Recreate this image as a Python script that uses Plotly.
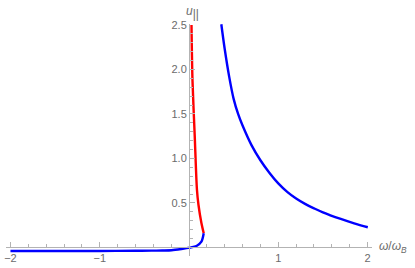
import plotly.graph_objects as go

# Lower blue branch (omega/omega_B, u_par)
blue_low_x = [-2.0, -1.5, -1.0, -0.6, -0.42, -0.3, -0.195, -0.084, 0.009, 0.084, 0.139, 0.165]
blue_low_y = [-0.040, -0.040, -0.039, -0.037, -0.036, -0.034, -0.031, -0.017, -0.002, 0.017, 0.065, 0.16]

# Red branch
red_x = [0.165, 0.139, 0.106, 0.089, 0.064, 0.039, 0.028]
red_y = [0.16, 0.275, 0.48, 0.65, 1.26, 1.88, 2.50]

# Upper blue branch
blue_up_x = [0.362, 0.40, 0.45, 0.50, 0.55, 0.60, 0.70, 0.80, 0.90, 1.00, 1.10, 1.20, 1.30, 1.40, 1.50, 1.70, 1.85, 2.003]
blue_up_y = [2.508, 2.23, 1.92, 1.67, 1.50, 1.37, 1.15, 0.98, 0.84, 0.72, 0.625, 0.55, 0.49, 0.44, 0.395, 0.32, 0.27, 0.227]

x_ticks = [-2, -1, 1, 2]
x_tick_text = ["\u22122", "\u22121", "1", "2"]
y_ticks = [0.5, 1.0, 1.5, 2.0, 2.5]
y_tick_text = ["0.5", "1.0", "1.5", "2.0", "2.5"]

XMIN, XMAX = -2.05, 2.05
YMIN, YMAX = -0.096, 2.511

AX = "#b3b3b3"
TXT = "#6b6b6b"
FONT = "Liberation Sans"

fig = go.Figure()
fig.add_trace(go.Scatter(x=red_x, y=red_y, mode="lines",
                         line=dict(color="#ff0000", width=2.4, shape="spline", smoothing=0.8),
                         showlegend=False))
fig.add_trace(go.Scatter(x=blue_low_x, y=blue_low_y, mode="lines",
                         line=dict(color="#0000ff", width=2.4, shape="spline", smoothing=0.8),
                         showlegend=False))
fig.add_trace(go.Scatter(x=blue_up_x, y=blue_up_y, mode="lines",
                         line=dict(color="#0000ff", width=2.4, shape="spline", smoothing=1.0),
                         showlegend=False))

fig.update_layout(
    width=415, height=268,
    margin=dict(l=4, r=43, t=24, b=12),
    paper_bgcolor="white", plot_bgcolor="white",
    font=dict(family=FONT, size=11, color=TXT),
    xaxis=dict(range=[XMIN, XMAX], anchor="free", position=(0 - YMIN) / (YMAX - YMIN),
               showline=True, linecolor=AX, linewidth=1, showgrid=False, zeroline=False,
               tickmode="array", tickvals=x_ticks, ticktext=x_tick_text,
               ticks="inside", ticklen=5, tickcolor=AX, tickwidth=1,
               minor=dict(ticks="inside", ticklen=3, dtick=0.2, tick0=0, tickcolor=AX, showgrid=False),
               tickfont=dict(family=FONT, size=11, color=TXT)),
    yaxis=dict(range=[YMIN, YMAX], anchor="free", position=(0 - XMIN) / (XMAX - XMIN),
               showline=True, linecolor=AX, linewidth=1, showgrid=False, zeroline=False,
               tickmode="array", tickvals=y_ticks, ticktext=y_tick_text,
               ticks="inside", ticklen=5, tickcolor=AX, tickwidth=1,
               minor=dict(ticks="inside", ticklen=3, dtick=0.1, tick0=0, tickcolor=AX, showgrid=False),
               tickfont=dict(family=FONT, size=11, color=TXT)),
    annotations=[
        dict(text="<i>u</i><sub><span style='font-size:12px'>||</span></sub>", x=0.0, xref="x",
             y=1.0, yref="paper",
             xanchor="center", yanchor="bottom", showarrow=False, xshift=3, yshift=1,
             font=dict(family=FONT, size=12, color=TXT)),
        dict(text="<i>ω</i>/<i>ω</i><sub><i>B</i></sub>", x=1.0, xref="paper", y=0, yref="y",
             xanchor="left", yanchor="middle", showarrow=False, xshift=5,
             font=dict(family=FONT, size=12, color=TXT)),
    ],
)

fig.write_html("out.html", config={"displayModeBar": False},
               post_script="document.body.style.margin='0';document.body.style.overflow='hidden';")
